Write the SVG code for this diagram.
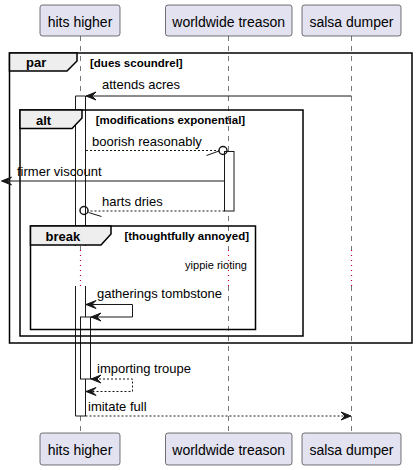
<svg xmlns="http://www.w3.org/2000/svg" width="416" height="470" viewBox="0 0 416 470">
<style>
text{font-family:"Liberation Sans",Arial,sans-serif;fill:#000}
.pn{font-size:14px;text-anchor:middle}
.m{font-size:13px}
.fl{font-size:13px;font-weight:bold}
.fc{font-size:11.5px;font-weight:bold}
.box{fill:#E2E2F0;stroke:#181818;stroke-width:0.6}
.life{stroke:#555;stroke-width:0.8;stroke-dasharray:5,5;fill:none}
.delay{stroke:#C8003C;stroke-width:1.2;stroke-dasharray:1,4;fill:none}
.frame{fill:none;stroke:#000;stroke-width:1.5}
.tab{fill:#EEEEEE;stroke:#000;stroke-width:1.5}
.act{fill:#fff;stroke:#181818;stroke-width:1}
.ln{stroke:#181818;stroke-width:1;fill:none}
.dl{stroke:#181818;stroke-width:1;fill:none;stroke-dasharray:2,2}
.ah{fill:#181818;stroke:#181818;stroke-width:1}
</style>
<g id="lifelines">
<path class="life" d="M80.5,36V250M80.5,286V433"/>
<path class="life" d="M228.5,36V250M228.5,286V433"/>
<path class="life" d="M351.5,36V250M351.5,286V433"/>
</g>
<g id="p-hits-higher">
<rect class="box" x="40" y="5" width="80" height="31" rx="2.5"/>
<text class="pn" x="80" y="27">hits higher</text>
<rect class="box" x="40" y="433" width="80" height="32" rx="2.5"/>
<text class="pn" x="80" y="455">hits higher</text>
</g>
<g id="p-worldwide-treason">
<rect class="box" x="165.5" y="5" width="126.5" height="31" rx="2.5"/>
<text class="pn" x="228.7" y="27">worldwide treason</text>
<rect class="box" x="165.5" y="433" width="126.5" height="32" rx="2.5"/>
<text class="pn" x="228.7" y="455">worldwide treason</text>
</g>
<g id="p-salsa-dumper">
<rect class="box" x="302" y="5" width="99" height="31" rx="2.5"/>
<text class="pn" x="351.5" y="27">salsa dumper</text>
<rect class="box" x="302" y="433" width="99" height="32" rx="2.5"/>
<text class="pn" x="351.5" y="455">salsa dumper</text>
</g>
<g id="activations">
<rect x="75.5" y="96" width="10" height="150" fill="#fff"/>
<path class="ln" d="M75.5,246V96H85.5V246"/>
<rect x="75.5" y="286" width="10" height="130" fill="#fff"/>
<path class="ln" d="M75.5,286V416H85.5V286"/>
<rect class="act" x="224.5" y="151.5" width="9.5" height="59.5"/>
<rect class="act" x="80.5" y="317" width="10" height="62"/>
</g>
<g id="frames">
<rect class="frame" x="9.5" y="53" width="402.5" height="290"/>
<path class="tab" d="M9.5,53H77V61L67,71H9.5Z"/>
<text class="fl" x="26" y="67">par</text>
<text class="fc" x="90" y="66.5">[dues scoundrel]</text>
<rect class="frame" x="20" y="110" width="283" height="226"/>
<path class="tab" d="M20,110H82V118L72,128.5H20Z"/>
<text class="fl" x="36" y="124.5">alt</text>
<text class="fc" x="95.7" y="124">[modifications exponential]</text>
<rect class="frame" x="30.5" y="226" width="225" height="103.5"/>
<path class="tab" d="M30.5,226H111V234L101,245H30.5Z"/>
<text class="fl" x="45.5" y="240.5">break</text>
<text class="fc" x="249" y="240" text-anchor="end">[thoughtfully annoyed]</text>
<text x="216" y="269" style="font-size:11px" text-anchor="middle">yippie rioting</text>
</g>
<g id="delay">
<path class="delay" d="M80.5,250V286M228.5,250V286M351.5,250V286"/>
</g>
<g id="connectors">
<text class="m" x="102" y="89">attends acres</text>
<path class="ln" d="M351.5,96H86"/>
<polygon class="ah" points="86,96 96,92 92,96 96,100"/>

<text class="m" x="92" y="145.5">boorish reasonably</text>
<path class="dl" d="M86,150.5H219"/>
<path class="ln" d="M206.5,155.5L219,151"/>
<circle cx="223" cy="150.5" r="4" fill="none" stroke="#181818" stroke-width="1.5"/>

<text class="m" x="17" y="176">firmer viscount</text>
<path class="ln" d="M224.5,181H2"/>
<polygon class="ah" points="1.5,181 11.5,177 7.5,181 11.5,185"/>

<text class="m" x="102" y="206">harts dries</text>
<path class="dl" d="M224.5,211H88"/>
<path class="ln" d="M88.5,212.5L101.5,216.5"/>
<circle cx="84" cy="210.5" r="4" fill="none" stroke="#181818" stroke-width="1.5"/>

<text class="m" x="97" y="298">gatherings tombstone</text>
<path class="ln" d="M86,304.5H132.5V317H91"/>
<polygon class="ah" points="86,304.5 96,300.5 92,304.5 96,308.5"/>
<polygon class="ah" points="91,317 101,313 97,317 101,321"/>

<text class="m" x="97" y="373">importing troupe</text>
<path class="dl" d="M91,379H132.5V391.5H86"/>
<polygon class="ah" points="91,379 101,375 97,379 101,383"/>
<polygon class="ah" points="86,391.5 96,387.5 92,391.5 96,395.5"/>

<text class="m" x="88" y="410.5">imitate full</text>
<path class="dl" d="M85.5,416H350"/>
<polygon class="ah" points="351,416 341,412 345,416 341,420"/>
</g>
</svg>
